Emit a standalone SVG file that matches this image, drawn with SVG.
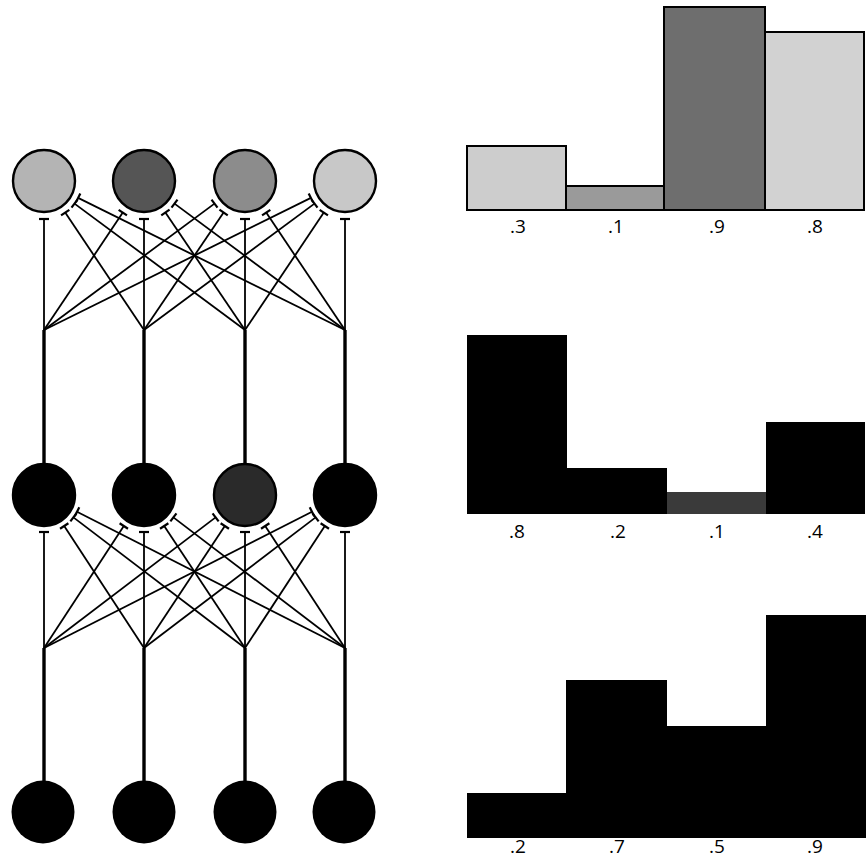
<svg xmlns="http://www.w3.org/2000/svg" width="868" height="859" viewBox="0 0 868 859">
<style>
.fan{stroke:#000;stroke-width:1.8;fill:none;marker-end:url(#tbar)}
.axon{stroke:#000;stroke-width:3.4;fill:none}
.node{stroke:#000;stroke-width:2.4}
.bar{stroke:#000;stroke-width:2}
.lbl{font-family:"Open Sans","Liberation Sans",sans-serif;font-size:19px;text-anchor:middle;fill:#000}
</style>
<defs>
<marker id="tbar" markerUnits="userSpaceOnUse" markerWidth="4" markerHeight="12" viewBox="-2 -6 4 12" refX="0" refY="0" orient="auto">
<path d="M0,-5 L0,5" stroke="#000" stroke-width="2.2"/>
</marker>
</defs>
<rect width="868" height="859" fill="#fff"/>
<g id="connectors">
<line class="axon" x1="44" y1="330" x2="44" y2="465"/>
<line class="axon" x1="144" y1="330" x2="144" y2="465"/>
<line class="axon" x1="245" y1="330" x2="245" y2="465"/>
<line class="axon" x1="345" y1="330" x2="345" y2="465"/>
<line class="axon" x1="44" y1="648" x2="44" y2="782"/>
<line class="axon" x1="144" y1="648" x2="144" y2="782"/>
<line class="axon" x1="245" y1="648" x2="245" y2="782"/>
<line class="axon" x1="345" y1="648" x2="345" y2="782"/>
<line class="fan" x1="44" y1="330" x2="44" y2="219"/>
<line class="fan" x1="144" y1="330" x2="65.2" y2="212.6"/>
<line class="fan" x1="245" y1="330" x2="74.5" y2="203.6"/>
<line class="fan" x1="345" y1="330" x2="78.1" y2="197.9"/>
<line class="fan" x1="44" y1="330" x2="122.8" y2="212.6"/>
<line class="fan" x1="144" y1="330" x2="144" y2="219"/>
<line class="fan" x1="245" y1="330" x2="165.4" y2="212.5"/>
<line class="fan" x1="345" y1="330" x2="174.5" y2="203.6"/>
<line class="fan" x1="44" y1="330" x2="214.5" y2="203.6"/>
<line class="fan" x1="144" y1="330" x2="223.6" y2="212.5"/>
<line class="fan" x1="245" y1="330" x2="245" y2="219"/>
<line class="fan" x1="345" y1="330" x2="266.2" y2="212.6"/>
<line class="fan" x1="44" y1="330" x2="310.9" y2="197.9"/>
<line class="fan" x1="144" y1="330" x2="314.5" y2="203.6"/>
<line class="fan" x1="245" y1="330" x2="323.8" y2="212.6"/>
<line class="fan" x1="345" y1="330" x2="345" y2="219"/>
<line class="fan" x1="44" y1="648" x2="44" y2="532"/>
<line class="fan" x1="144" y1="648" x2="64.2" y2="526"/>
<line class="fan" x1="245" y1="648" x2="73.4" y2="517.4"/>
<line class="fan" x1="345" y1="648" x2="77" y2="511.8"/>
<line class="fan" x1="44" y1="648" x2="123.8" y2="526"/>
<line class="fan" x1="144" y1="648" x2="144" y2="532"/>
<line class="fan" x1="245" y1="648" x2="164.2" y2="526"/>
<line class="fan" x1="345" y1="648" x2="173.4" y2="517.4"/>
<line class="fan" x1="44" y1="648" x2="215.6" y2="517.4"/>
<line class="fan" x1="144" y1="648" x2="224.8" y2="526"/>
<line class="fan" x1="245" y1="648" x2="245" y2="532"/>
<line class="fan" x1="345" y1="648" x2="265.2" y2="526"/>
<line class="fan" x1="44" y1="648" x2="312" y2="511.8"/>
<line class="fan" x1="144" y1="648" x2="315.6" y2="517.4"/>
<line class="fan" x1="245" y1="648" x2="324.8" y2="526"/>
<line class="fan" x1="345" y1="648" x2="345" y2="532"/>
</g>
<g id="top-1"><circle class="node" cx="44" cy="181" r="31" fill="#b4b4b4"/></g>
<g id="top-2"><circle class="node" cx="144" cy="181" r="31" fill="#555"/></g>
<g id="top-3"><circle class="node" cx="245" cy="181" r="31" fill="#8c8c8c"/></g>
<g id="top-4"><circle class="node" cx="345" cy="181" r="31" fill="#c8c8c8"/></g>
<g id="mid-1"><circle class="node" cx="44" cy="495" r="31" fill="#000"/></g>
<g id="mid-2"><circle class="node" cx="144" cy="495" r="31" fill="#000"/></g>
<g id="mid-3"><circle class="node" cx="245" cy="495" r="31" fill="#2a2a2a"/></g>
<g id="mid-4"><circle class="node" cx="345" cy="495" r="31" fill="#000"/></g>
<g id="bot-1"><circle cx="43" cy="812" r="31.5" fill="#000"/></g>
<g id="bot-2"><circle cx="144" cy="812" r="31.5" fill="#000"/></g>
<g id="bot-3"><circle cx="245" cy="812" r="31.5" fill="#000"/></g>
<g id="bot-4"><circle cx="344" cy="812" r="31.5" fill="#000"/></g>
<g id="hist-top">
<rect class="bar" x="467" y="146" width="99" height="64" fill="#cdcdcd"/>
<rect class="bar" x="566" y="186" width="98" height="24" fill="#9a9a9a"/>
<rect class="bar" x="664" y="7" width="101" height="203" fill="#6e6e6e"/>
<rect class="bar" x="765" y="32" width="99" height="178" fill="#d2d2d2"/>
<text class="lbl" x="518" y="233">.3</text>
<text class="lbl" x="616" y="233">.1</text>
<text class="lbl" x="717" y="233">.9</text>
<text class="lbl" x="815" y="233">.8</text>
</g>
<g id="hist-mid">
<rect x="467" y="335" width="100" height="179" fill="#000"/>
<rect x="567" y="468" width="100" height="46" fill="#000"/>
<rect x="667" y="492" width="99" height="22" fill="#3a3a3a"/>
<rect x="766" y="422" width="99" height="92" fill="#000"/>
<text class="lbl" x="517" y="538">.8</text>
<text class="lbl" x="618" y="538">.2</text>
<text class="lbl" x="717" y="538">.1</text>
<text class="lbl" x="815" y="538">.4</text>
</g>
<g id="hist-bot">
<rect x="467" y="793" width="99" height="45" fill="#000"/>
<rect x="566" y="680" width="101" height="158" fill="#000"/>
<rect x="667" y="726" width="99" height="112" fill="#000"/>
<rect x="766" y="615" width="100" height="223" fill="#000"/>
<text class="lbl" x="518" y="853">.2</text>
<text class="lbl" x="617" y="853">.7</text>
<text class="lbl" x="717" y="853">.5</text>
<text class="lbl" x="815" y="853">.9</text>
</g>
</svg>
